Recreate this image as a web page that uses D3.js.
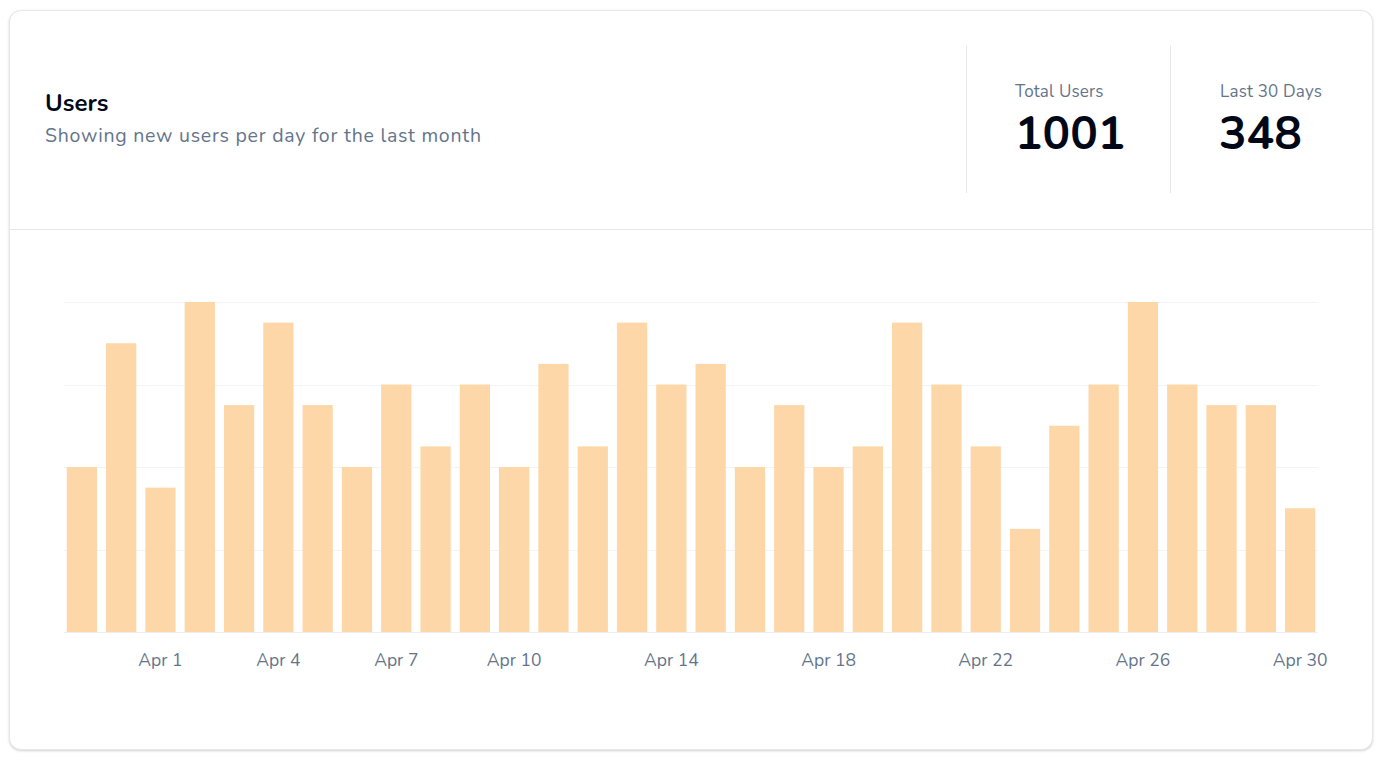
<!DOCTYPE html>
<html>
<head>
<meta charset="utf-8">
<script src="https://cdn.jsdelivr.net/npm/d3@7"></script>
<style>
  html, body { margin: 0; padding: 0; background: #ffffff; }
  body { width: 1381px; height: 763px; position: relative; overflow: hidden; font-family: "Nunito", "Lato", sans-serif; }
  .card {
    position: absolute; left: 9px; top: 10px; width: 1362px; height: 738px;
    border: 1px solid #e5e7eb; border-radius: 12px;
    box-shadow: 0 1px 3px rgba(0, 0, 0, 0.12), 0 1px 2px rgba(0, 0, 0, 0.06);
    background: #ffffff;
  }
  .header { position: absolute; left: 0; top: 0; width: 100%; height: 218px; border-bottom: 1px solid #e5e7eb; }
  .title { position: absolute; left: 35px; top: 77px; font-size: 24px; font-weight: 700; color: #020817; line-height: 30px; }
  .subtitle { position: absolute; left: 35px; top: 113px; font-size: 19.5px; letter-spacing: 0.75px; color: #64748b; line-height: 24px; white-space: nowrap; }
  .stat { position: absolute; top: 35px; height: 147px; border-left: 1px solid #e5e7eb; }
  .stat .label { position: absolute; top: 35px; font-size: 17px; letter-spacing: 0.2px; color: #64748b; line-height: 21px; white-space: nowrap; }
  .stat .value { position: absolute; top: 66px; font-size: 46px; font-weight: 700; color: #020817; line-height: 44px; }
  svg { position: absolute; left: 0; top: 0; }
</style>
</head>
<body>
<div class="card">
  <div class="header">
    <div class="title">Users</div>
    <div class="subtitle">Showing new users per day for the last month</div>
    <div class="stat" id="stat-total" style="left: 956px; width: 204px;">
      <div class="label" style="left: 48px;">Total Users</div>
      <div class="value" style="left: 48px;">1001</div>
    </div>
    <div class="stat" id="stat-month" style="left: 1160px; width: 201px;">
      <div class="label" style="left: 49px;">Last 30 Days</div>
      <div class="value" style="left: 48px;">348</div>
    </div>
  </div>
</div>
<div id="chart"></div>
<script>
  const days = [
    'Mar 30', 'Mar 31', 'Apr 1', 'Apr 2', 'Apr 3', 'Apr 4', 'Apr 5', 'Apr 6',
    'Apr 7', 'Apr 8', 'Apr 9', 'Apr 10', 'Apr 11', 'Apr 12', 'Apr 13', 'Apr 14',
    'Apr 15', 'Apr 16', 'Apr 17', 'Apr 18', 'Apr 19', 'Apr 20', 'Apr 21', 'Apr 22',
    'Apr 23', 'Apr 24', 'Apr 25', 'Apr 26', 'Apr 27', 'Apr 28', 'Apr 29', 'Apr 30'
  ];
  const newUsers = [8, 14, 7, 16, 11, 15, 11, 8, 12, 9, 12, 8, 13, 9, 15, 12,
    13, 8, 11, 8, 9, 15, 12, 9, 5, 10, 12, 16, 12, 11, 11, 6];
  const tickDays = ['Apr 1', 'Apr 4', 'Apr 7', 'Apr 10', 'Apr 14', 'Apr 18', 'Apr 22', 'Apr 26', 'Apr 30'];
  const yTicks = [0, 4, 8, 12, 16];

  const width = 1381, height = 763;
  const margin = { top: 302, right: 63, bottom: 131, left: 64 };

  const svg = d3.select('#chart')
    .append('svg')
    .attr('width', width)
    .attr('height', height);

  const xScale = d3.scaleBand()
    .domain(days)
    .range([margin.left, width - margin.right])
    .paddingInner(0.23)
    .paddingOuter(0.07);

  const yScale = d3.scaleLinear()
    .domain([0, 16])
    .range([height - margin.bottom, margin.top]);

  // grid lines
  svg.append('g')
    .attr('class', 'grid')
    .selectAll('line')
    .data(yTicks)
    .join('line')
    .attr('x1', margin.left)
    .attr('x2', width - margin.right)
    .attr('y1', (d) => Math.round(yScale(d)) + 0.5)
    .attr('y2', (d) => Math.round(yScale(d)) + 0.5)
    .attr('stroke', (d) => (d === 0 ? '#eceef2' : '#f3f4f6'))
    .attr('stroke-width', 1);

  // bars
  svg.append('g')
    .selectAll('rect')
    .data(newUsers)
    .join('rect')
    .attr('x', (d, i) => xScale(days[i]))
    .attr('y', (d) => yScale(d))
    .attr('width', xScale.bandwidth())
    .attr('height', (d) => yScale(0) - yScale(d))
    .attr('fill', '#fdd7a8');

  // x axis
  const xAxis = d3.axisBottom(xScale).tickValues(tickDays).tickSize(0).tickPadding(22);
  svg.append('g')
    .attr('transform', `translate(0,${yScale(0)})`)
    .call(xAxis)
    .call((g) => g.select('.domain').remove())
    .call((g) => g.selectAll('.tick text')
      .attr('fill', '#64748b')
      .style('font-family', '"Nunito", "Lato", sans-serif')
      .style('font-size', '17.5px'));
</script>
</body>
</html>
